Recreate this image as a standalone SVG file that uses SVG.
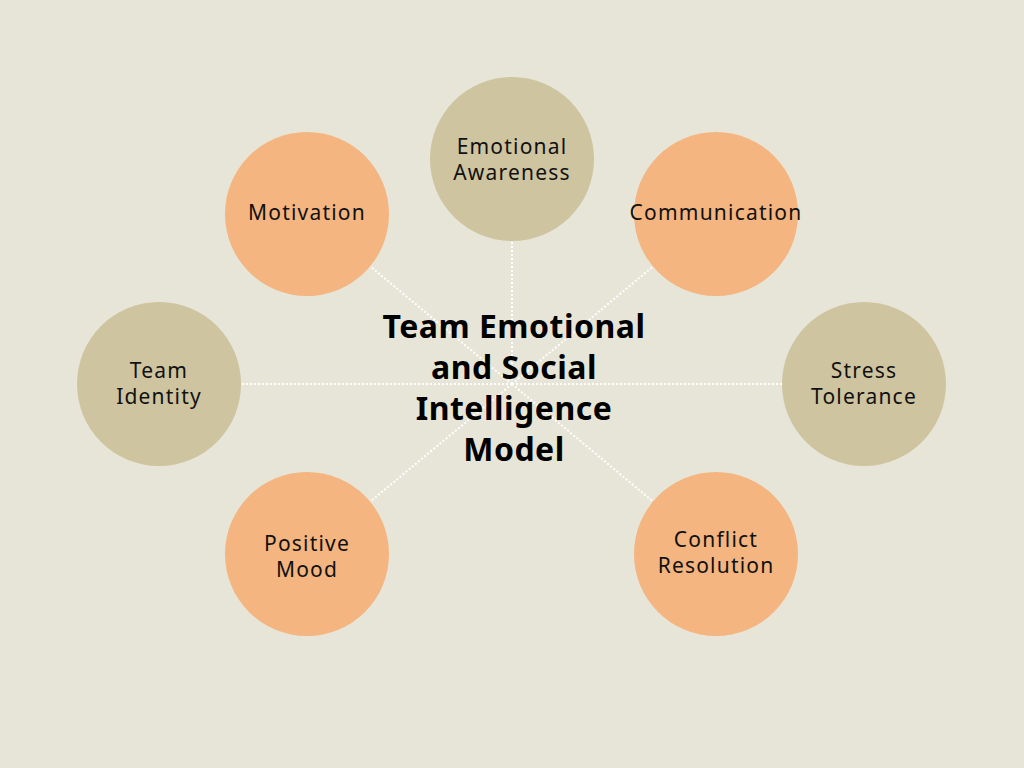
<svg xmlns="http://www.w3.org/2000/svg" width="1024" height="768" viewBox="0 0 1024 768">
<style>
.bg{fill:#E7E5D7}
.tan{fill:#CEC4A0}
.org{fill:#F4B580}
.lbl{font-family:"Noto Sans","Open Sans",sans-serif;font-size:21px;letter-spacing:1.2px;fill:#111;text-anchor:middle;font-variant-ligatures:none}
.title{font-family:"Noto Sans","Open Sans",sans-serif;font-size:32px;letter-spacing:0.5px;font-weight:700;fill:#000;text-anchor:middle;font-variant-ligatures:none}
.con{stroke:#FFFFFF;stroke-width:2;stroke-dasharray:2 2;fill:none}
</style>
<rect class="bg" x="0" y="0" width="1024" height="768"/>
<g id="connectors">
<line class="con" x1="512" y1="384" x2="512" y2="241"/>
<line class="con" x1="512" y1="384" x2="307" y2="214"/>
<line class="con" x1="512" y1="384" x2="716" y2="214"/>
<line class="con" x1="512" y1="384" x2="159" y2="384"/>
<line class="con" x1="512" y1="384" x2="864" y2="384"/>
<line class="con" x1="512" y1="384" x2="307" y2="554"/>
<line class="con" x1="512" y1="384" x2="716" y2="554"/>
</g>
<g id="emotional-awareness"><circle class="tan" cx="512" cy="159" r="82"/><text class="lbl" x="512" y="154">Emotional</text><text class="lbl" x="512" y="180">Awareness</text></g>
<g id="motivation"><circle class="org" cx="307" cy="214" r="82"/><text class="lbl" x="307" y="220">Motivation</text></g>
<g id="communication"><circle class="org" cx="716" cy="214" r="82"/><text class="lbl" x="716" y="220">Communication</text></g>
<g id="team-identity"><circle class="tan" cx="159" cy="384" r="82"/><text class="lbl" x="159" y="378">Team</text><text class="lbl" x="159" y="404">Identity</text></g>
<g id="stress-tolerance"><circle class="tan" cx="864" cy="384" r="82"/><text class="lbl" x="864" y="378">Stress</text><text class="lbl" x="864" y="404">Tolerance</text></g>
<g id="positive-mood"><circle class="org" cx="307" cy="554" r="82"/><text class="lbl" x="307" y="551">Positive</text><text class="lbl" x="307" y="577">Mood</text></g>
<g id="conflict-resolution"><circle class="org" cx="716" cy="554" r="82"/><text class="lbl" x="716" y="547">Conflict</text><text class="lbl" x="716" y="573">Resolution</text></g>
<g id="center">
<text class="title" x="514" y="338">Team Emotional</text>
<text class="title" x="514" y="379">and Social</text>
<text class="title" x="514" y="420">Intelligence</text>
<text class="title" x="514" y="461">Model</text>
</g>
</svg>
